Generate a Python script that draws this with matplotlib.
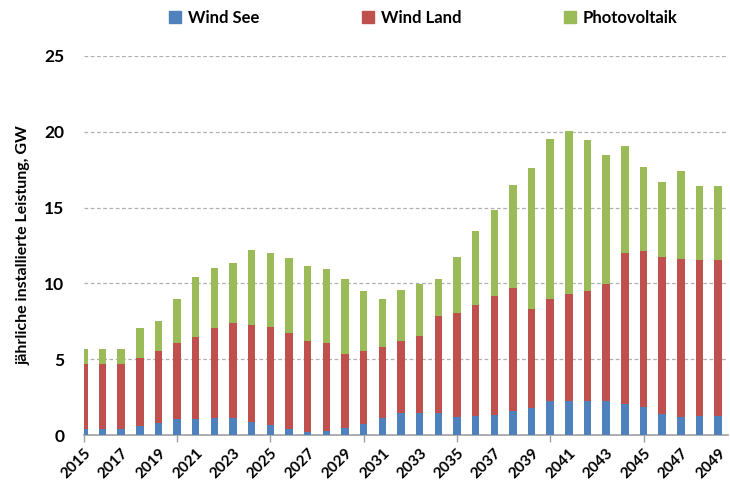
import numpy as np
import matplotlib.pyplot as plt
from matplotlib.patches import Patch

plt.rcParams['font.family'] = ['Lato', 'DejaVu Sans']

years = np.arange(2015, 2050)

# cumulative tops (GW)
see_top = [0.37, 0.37, 0.37, 0.59, 0.77, 1.03, 1.03, 1.12, 1.12, 0.86,
           0.64, 0.37, 0.20, 0.24, 0.46, 0.73, 1.12, 1.43, 1.43, 1.43,
           1.17, 1.23, 1.30, 1.56, 1.76, 2.26, 2.26, 2.26, 2.26, 2.07,
           1.87, 1.36, 1.17, 1.23, 1.23]
land_top = [4.68, 4.68, 4.68, 5.08, 5.52, 6.05, 6.49, 7.06, 7.37, 7.26,
            7.12, 6.73, 6.22, 6.09, 5.34, 5.52, 5.83, 6.22, 6.53, 7.83,
            8.07, 8.60, 9.17, 9.70, 8.33, 8.99, 9.30, 9.50, 9.96, 12.00,
            12.14, 11.74, 11.61, 11.54, 11.54]
pv_top = [5.65, 5.65, 5.65, 7.06, 7.50, 8.99, 10.44, 11.02, 11.35, 12.18,
          11.98, 11.65, 11.15, 10.95, 10.27, 9.50, 8.97, 9.56, 9.98, 10.31,
          11.74, 13.46, 14.82, 16.47, 17.63, 19.50, 20.07, 19.44, 18.47, 19.04,
          17.70, 16.67, 17.44, 16.43, 16.43]

wind_see = np.array(see_top)
wind_land = np.array(land_top) - wind_see
pv = np.array(pv_top) - np.array(land_top)

labels = ['Wind See', 'Wind Land', 'Photovoltaik']
colors = ['#4F81BD', '#C0504D', '#9BBB59']

fig = plt.figure(figsize=(7.3, 4.82), dpi=100)
ax = fig.add_axes([0.1148, 0.0975, 0.883, 0.7865])

w = 0.4
ax.bar(years, wind_see, w, color=colors[0], zorder=3)
ax.bar(years, wind_land, w, bottom=wind_see, color=colors[1], zorder=3)
ax.bar(years, pv, w, bottom=wind_see + wind_land, color=colors[2], zorder=3)

ax.set_xlim(2015, 2049.55)
ax.set_ylim(0, 25)
ax.set_yticks(range(0, 30, 5))
ax.set_yticklabels([str(v) for v in range(0, 30, 5)], fontsize=12.5, fontweight='bold')
ax.tick_params(axis='y', length=0, pad=14)

for y in range(5, 30, 5):
    ax.axhline(y, color='#b0b0b0', linestyle=(0, (3, 2)), linewidth=0.9, zorder=1)

# labels every 2 years (no tick marks)
ax.set_xticks(np.arange(2015, 2050, 2))
ax.set_xticklabels([str(y) for y in range(2015, 2050, 2)],
                   rotation=45, ha='right', rotation_mode='anchor',
                   fontsize=11, fontweight='bold')
ax.tick_params(axis='x', length=0, pad=8)

# tick marks every 5 years
sec = ax.secondary_xaxis('bottom')
sec.set_xticks(np.arange(2015, 2050, 5))
sec.set_xticklabels([])
sec.tick_params(axis='x', length=5, width=1, color='#a0a0a0', direction='out')
sec.spines['bottom'].set_visible(False)

for s in ['top', 'right', 'left']:
    ax.spines[s].set_visible(False)
ax.spines['bottom'].set_color('#a0a0a0')
ax.spines['bottom'].set_linewidth(1.2)

ax.set_ylabel('jährliche installierte Leistung, GW', fontsize=11.5,
              fontweight='bold', labelpad=10)

handles = [Patch(color=c) for c in colors]
fig.legend(handles, labels, loc='center', bbox_to_anchor=(0.58, 0.963), ncol=3,
           frameon=False, prop={'size': 12, 'weight': 'bold'},
           handlelength=0.7, handleheight=0.7, handletextpad=0.4,
           columnspacing=6.2)

fig.savefig('out.png', dpi=100)
